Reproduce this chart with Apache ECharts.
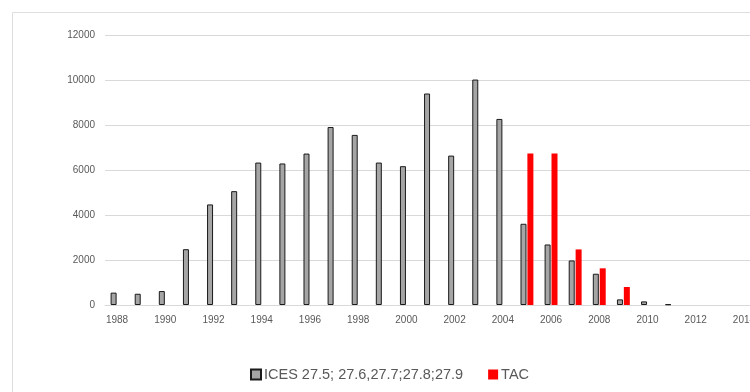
<!DOCTYPE html>
<html>
<head>
<meta charset="utf-8">
<script src="https://cdn.jsdelivr.net/npm/echarts@6/dist/echarts.min.js"></script>
<style>
  html, body { margin: 0; padding: 0; background: #ffffff; }
  #chart { width: 750px; height: 392px; }
</style>
</head>
<body>
<div id="chart"></div>
<script>
// Years on the category axis
const years = ['1988','1989','1990','1991','1992','1993','1994','1995','1996','1997',
  '1998','1999','2000','2001','2002','2003','2004','2005','2006','2007','2008',
  '2009','2010','2011','2012','2013','2014'];

// Landings, ICES areas 27.5 - 27.9
const icesValues = [550, 500, 620, 2480, 4470, 5060, 6330, 6290, 6730, 7910,
  7560, 6330, 6170, 9400, 6640, 10020, 8270, 3610, 2690, 1980, 1390,
  250, 160, 30, null, null, null];

// Total allowable catch
const tacValues = [null, null, null, null, null, null, null, null, null, null,
  null, null, null, null, null, null, null, 6730, 6730, 2470, 1630,
  800, null, null, null, null, null];

const yTicks = { min: 0, max: 12000, step: 2000 };

const chart = echarts.init(document.getElementById('chart'), null, { renderer: 'canvas' });

const textColor = '#595959';
const lineColor = '#d9d9d9';
const fontFamily = '"Liberation Sans", Arial, sans-serif';

chart.setOption({
  animation: false,
  backgroundColor: '#ffffff',
  graphic: [{
    type: 'rect',
    left: 10,
    top: 10,
    shape: { width: 800, height: 500 },
    style: { fill: 'none', stroke: '#dedede', lineWidth: 1 },
    silent: true,
    z: -10
  }],
  grid: { left: 105, top: 35, width: 651, height: 270, containLabel: false, outerBoundsMode: 'none' },
  legend: {
    left: 250,
    top: 367,
    padding: 0,
    itemWidth: 10,
    itemHeight: 10,
    itemGap: 25,
    icon: 'rect',
    textStyle: { color: textColor, fontSize: 14.5, fontFamily: fontFamily, padding: [0, 0, 0, -2] },
    data: ['ICES 27.5; 27.6,27.7;27.8;27.9', 'TAC']
  },
  xAxis: {
    type: 'category',
    data: years,
    axisLine: { lineStyle: { color: lineColor, width: 1 } },
    axisTick: { show: false },
    axisLabel: { interval: 1, color: textColor, fontSize: 10, fontFamily: fontFamily, margin: 10 },
    splitLine: { show: false }
  },
  yAxis: {
    type: 'value',
    min: yTicks.min,
    max: yTicks.max,
    interval: yTicks.step,
    axisLine: { show: false },
    axisTick: { show: false },
    axisLabel: {
      color: textColor, fontSize: 10, fontFamily: fontFamily, margin: 10,
      formatter: (v) => String(v)
    },
    splitLine: { lineStyle: { color: lineColor, width: 1 } }
  },
  series: [
    {
      name: 'ICES 27.5; 27.6,27.7;27.8;27.9',
      type: 'bar',
      data: icesValues,
      barWidth: 6,
      barGap: '15%',
      itemStyle: { color: '#a5a5a5', borderColor: '#1a1a1a', borderWidth: 1 }
    },
    {
      name: 'TAC',
      type: 'bar',
      data: tacValues,
      barWidth: 6,
      barGap: '15%',
      itemStyle: { color: '#ff0000' }
    }
  ]
});
</script>
</body>
</html>
